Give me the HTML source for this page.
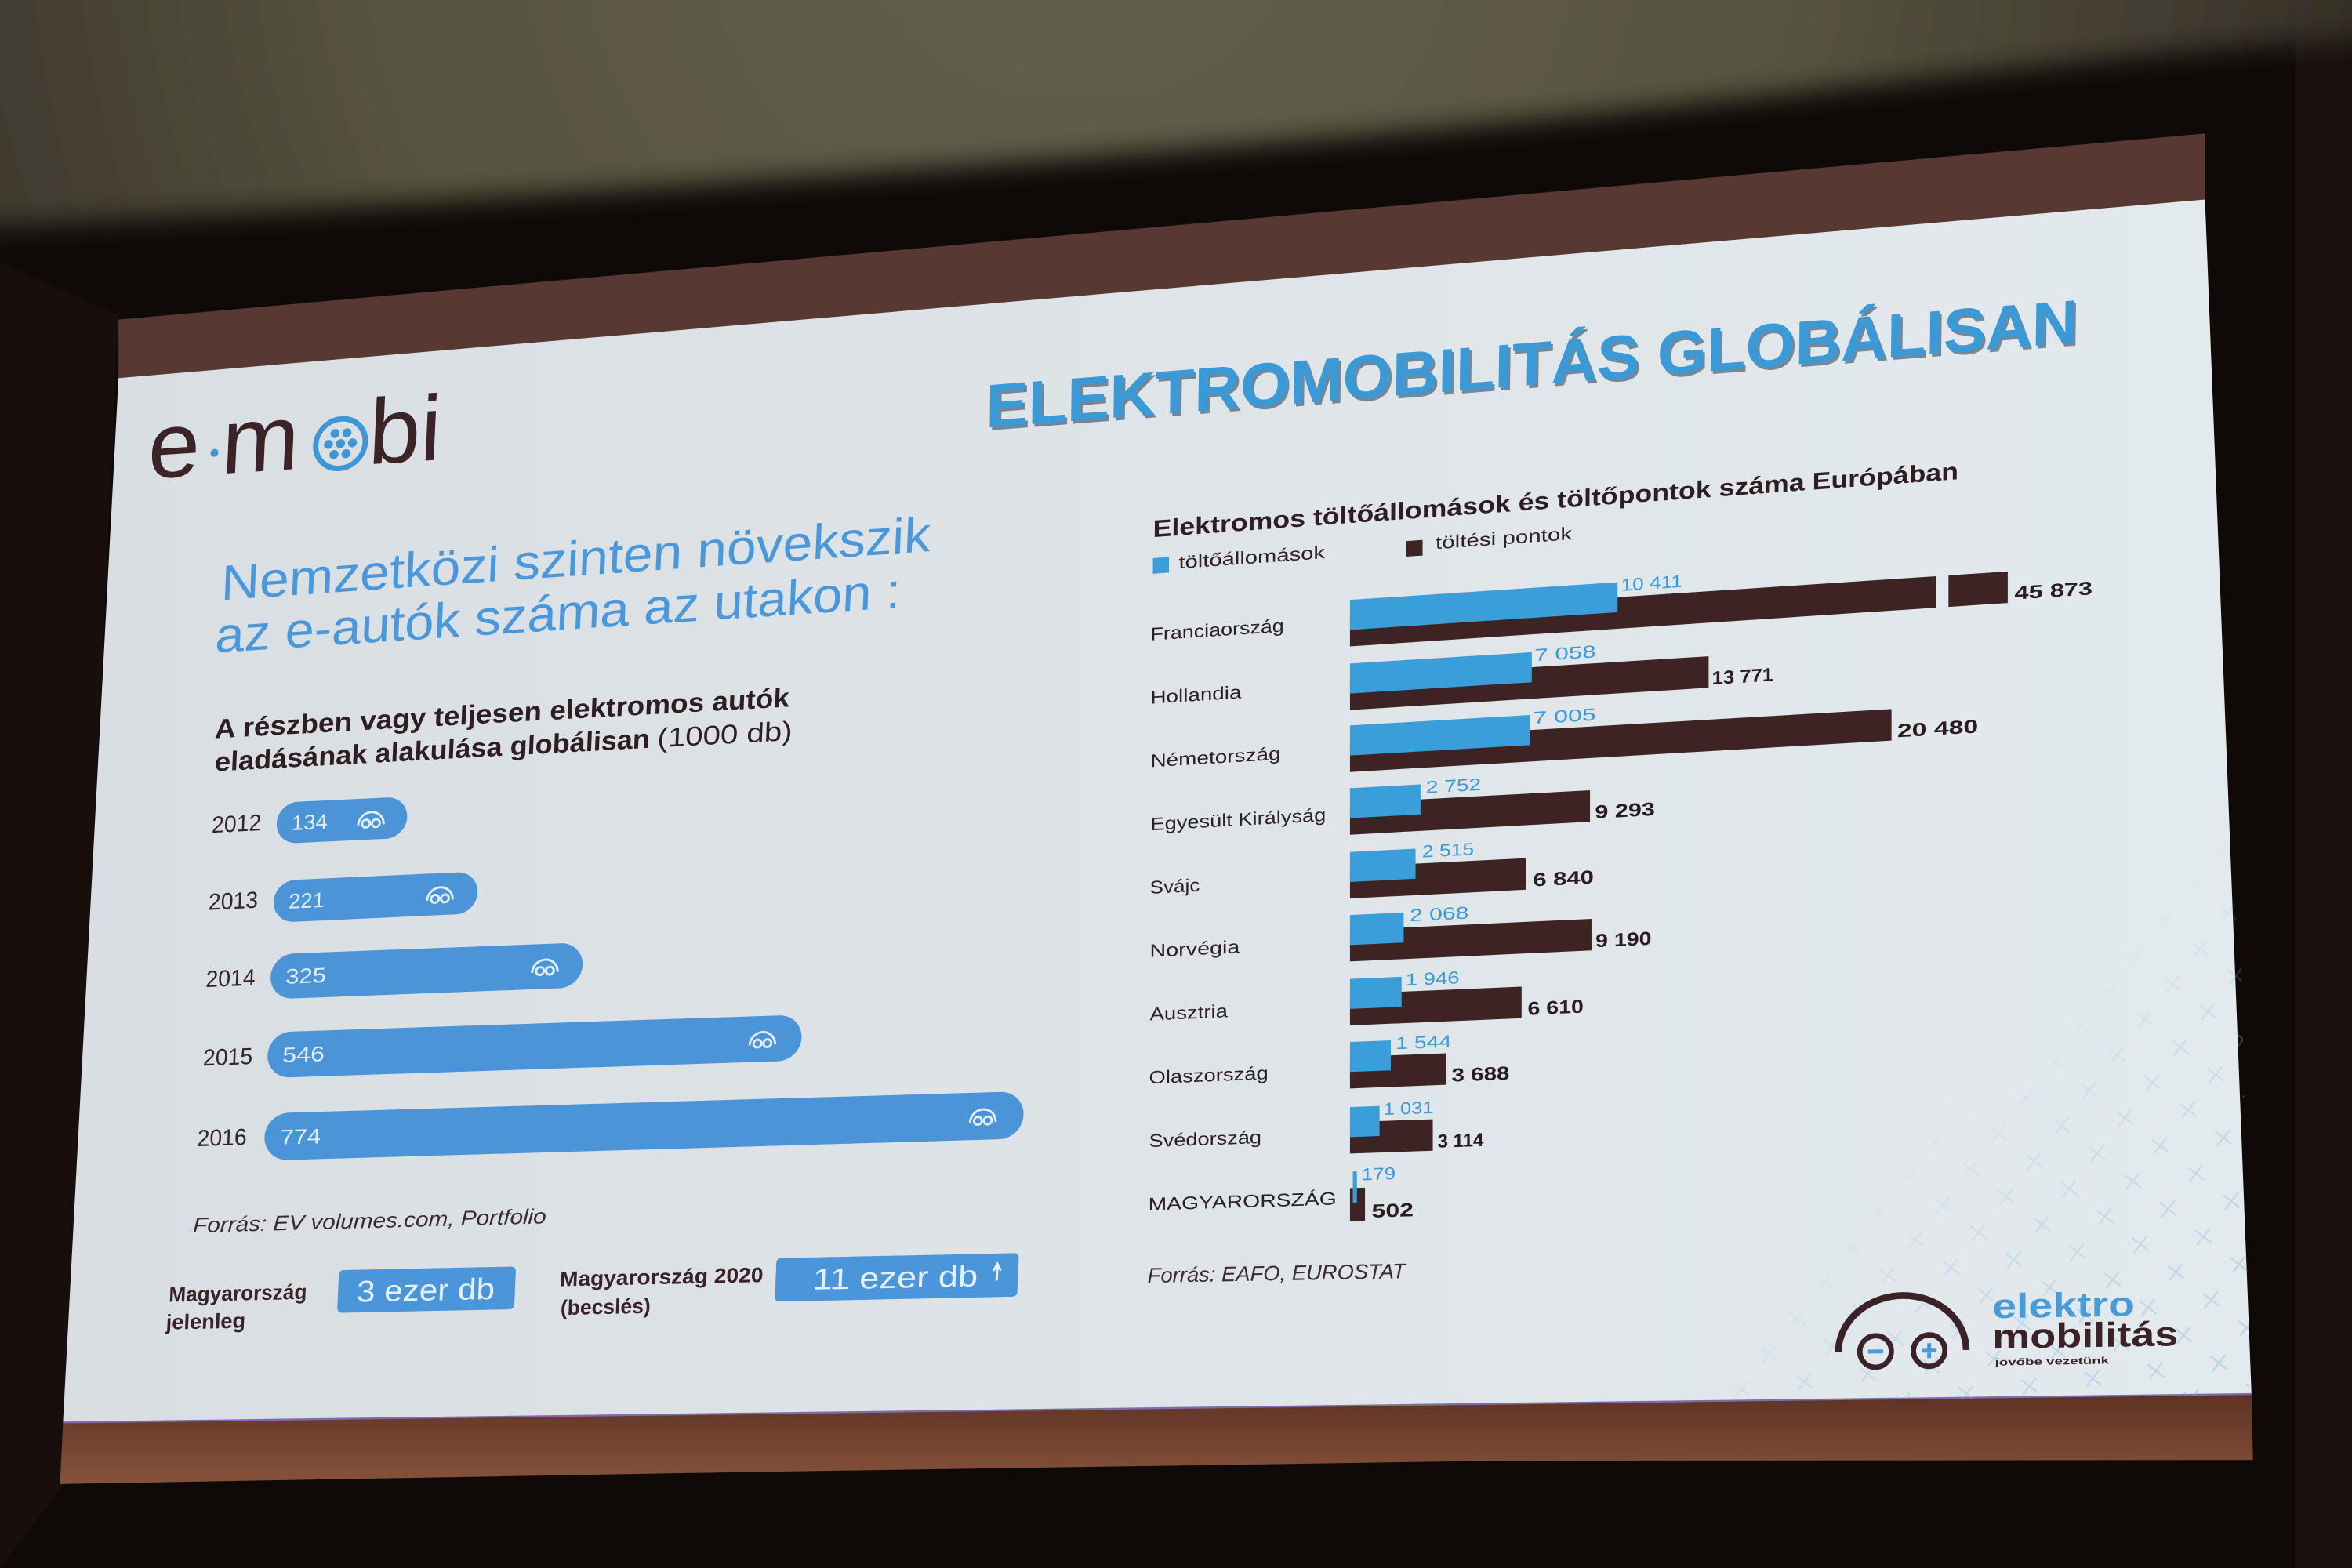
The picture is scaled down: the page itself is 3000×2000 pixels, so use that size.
<!DOCTYPE html>
<html><head><meta charset="utf-8">
<style>
html,body{margin:0;padding:0;background:#100b09;}
svg{display:block;}
text{font-family:"Liberation Sans","DejaVu Sans",sans-serif;}
.bl{font-size:11.5px;fill:#3a9ad8;}
.dl{font-size:12.5px;font-weight:bold;fill:#2a1c1f;}
.cl{font-size:12px;fill:#2d2024;}
.yr{font-size:15.5px;fill:#33252a;}
.bv{font-size:14px;fill:#e2edf8;}
</style></head>
<body>
<svg xmlns="http://www.w3.org/2000/svg" width="3000" height="2000" viewBox="0 0 1568 1045" preserveAspectRatio="none">
<defs>
 <radialGradient id="ceil" cx="720" cy="-80" r="950" gradientUnits="userSpaceOnUse">
  <stop offset="0" stop-color="#63624f"/>
  <stop offset="0.5" stop-color="#57543f"/>
  <stop offset="0.8" stop-color="#3f392e"/>
  <stop offset="1" stop-color="#2a241e"/>
 </radialGradient>
 <filter id="blur" filterUnits="userSpaceOnUse" x="-100" y="-100" width="1800" height="400"><feGaussianBlur stdDeviation="9"/></filter>
 <linearGradient id="scr" gradientUnits="userSpaceOnUse" x1="40" y1="0" x2="1500" y2="0">
  <stop offset="0" stop-color="#d8dee1"/>
  <stop offset="0.5" stop-color="#dee4e7"/>
  <stop offset="1" stop-color="#e3eaee"/>
 </linearGradient>
 <linearGradient id="bot" x1="0" y1="0" x2="0" y2="1">
  <stop offset="0" stop-color="#5e3325"/>
  <stop offset="1" stop-color="#87523a"/>
 </linearGradient>
 <pattern id="xp" width="30" height="30" patternUnits="userSpaceOnUse" patternTransform="rotate(38)">
  <path d="M15 8V22M8 15H22" stroke="#86bbe3" stroke-width="1.2" fill="none"/>
 </pattern>
 <linearGradient id="xm" gradientUnits="userSpaceOnUse" x1="1500" y1="930" x2="1300" y2="722">
  <stop offset="0" stop-color="#fff" stop-opacity="1"/>
  <stop offset="0.7" stop-color="#fff" stop-opacity="0.5"/>
  <stop offset="1" stop-color="#fff" stop-opacity="0"/>
 </linearGradient>
 <mask id="xmask"><polygon points="1120,935 1500,929 1492,520" fill="url(#xm)"/></mask>
 <g id="car" fill="none" stroke="#e4eef8" stroke-width="1.5">
  <path d="M-8.5 4 A8.5 8.5 0 0 1 8.5 4"/>
  <circle cx="-3.3" cy="3" r="2.6"/>
  <circle cx="3.3" cy="3" r="2.6"/>
 </g>
</defs>

<!-- background -->
<rect x="0" y="0" width="1568" height="1045" fill="#0f0a08"/>
<rect x="1530" y="0" width="38" height="1045" fill="#1a120f"/>
<path d="M-60,-60 H1640 V22 C1450,30 1250,58 1000,82 C760,104 420,128 -60,154 Z" fill="url(#ceil)" filter="url(#blur)"/>
<polygon points="0,175 79,210 42,990 0,1045" fill="#180f0d"/>

<!-- screen -->
<polygon points="79,213 1470,89 1470,133 79,252" fill="#573832"/>
<polygon points="79,252 1470,133 1501,929 42,948" fill="url(#scr)"/>
<polygon points="42,948 1501,929 1502,973 1000,973.5 500,981 40,989" fill="url(#bot)"/>
<line x1="42" y1="948" x2="1501" y2="929" stroke="#7d6ca8" stroke-width="1.2"/>

<!-- crosses pattern -->
<polygon points="1120,935 1500,929 1492,520" fill="url(#xp)" mask="url(#xmask)" opacity="0.5"/>

<!-- e-mobi logo -->
<g transform="matrix(1 -0.065 -0.046 1 98 319)" fill="#3b2328">
 <text x="0" y="0" font-size="62" fill="#3b2328">e</text>
 <circle cx="44.3" cy="-14.3" r="2.6" fill="#3f95d5"/>
 <text x="49" y="0" font-size="62" fill="#3b2328">m</text>
 <g transform="translate(128.3 -15)">
  <circle r="16.5" fill="none" stroke="#3f95d5" stroke-width="3.6"/>
  <g fill="#3f95d5">
   <circle cx="-4" cy="-7" r="3"/><circle cx="4" cy="-7" r="3"/>
   <circle cx="-8" cy="0" r="3"/><circle cx="0" cy="0" r="3"/><circle cx="8" cy="0" r="3"/>
   <circle cx="-4" cy="7" r="3"/><circle cx="4" cy="7" r="3"/>
  </g>
 </g>
 <text x="147" y="0" font-size="62" fill="#3b2328">bi</text>
</g>

<!-- title -->
<g transform="matrix(1 -0.078 -0.013 1 657 285)">
 <text x="1.5" y="2" font-size="41" font-weight="bold" fill="#1f3a55" opacity="0.55" textLength="728" lengthAdjust="spacingAndGlyphs">ELEKTROMOBILITÁS GLOBÁLISAN</text>
 <text x="0" y="0" font-size="41" font-weight="bold" fill="#3a99d7" textLength="728" lengthAdjust="spacingAndGlyphs">ELEKTROMOBILITÁS GLOBÁLISAN</text>
</g>

<!-- left heading -->
<text transform="matrix(1 -0.069 -0.043 1 147 400)" font-size="33" fill="#4a98dc" textLength="473" lengthAdjust="spacingAndGlyphs">Nemzetközi szinten növekszik</text>
<text transform="matrix(1 -0.066 -0.043 1 143 435)" font-size="33" fill="#4a98dc" textLength="457" lengthAdjust="spacingAndGlyphs">az e-autók száma az utakon :</text>

<!-- subheading -->
<text transform="matrix(1 -0.055 -0.043 1 143 492)" font-size="18" font-weight="bold" fill="#2e1e22" textLength="383" lengthAdjust="spacingAndGlyphs">A részben vagy teljesen elektromos autók</text>
<g transform="matrix(1 -0.054 -0.043 1 143 514)">
 <text x="0" y="0" font-size="18" font-weight="bold" fill="#2e1e22" textLength="290" lengthAdjust="spacingAndGlyphs">eladásának alakulása globálisan</text>
 <text x="295" y="0" font-size="18" fill="#2e1e22" textLength="90" lengthAdjust="spacingAndGlyphs">(1000 db)</text>
</g>

<!-- left bars -->
<g transform="matrix(1 -0.048 -0.041 1 185 535)">
 <rect width="87" height="27.5" rx="13.75" fill="#4a94d7"/>
 <text x="10" y="18.8" class="bv" textLength="24" lengthAdjust="spacingAndGlyphs">134</text>
 <use href="#car" x="63" y="13.75"/>
</g>
<g transform="matrix(1 -0.046 -0.041 1 183 587)">
 <rect width="136" height="28" rx="14" fill="#4a94d7"/>
 <text x="10" y="19" class="bv" textLength="24" lengthAdjust="spacingAndGlyphs">221</text>
 <use href="#car" x="111" y="14"/>
</g>
<g transform="matrix(1 -0.038 -0.040 1 181 636)">
 <rect width="208" height="30" rx="15" fill="#4a94d7"/>
 <text x="10" y="20" class="bv" textLength="27" lengthAdjust="spacingAndGlyphs">325</text>
 <use href="#car" x="183" y="15"/>
</g>
<g transform="matrix(1 -0.033 -0.040 1 179 688)">
 <rect width="356" height="30.5" rx="15.25" fill="#4a94d7"/>
 <text x="10" y="20.3" class="bv" textLength="28" lengthAdjust="spacingAndGlyphs">546</text>
 <use href="#car" x="330" y="15.25"/>
</g>
<g transform="matrix(1 -0.029 -0.040 1 177 742)">
 <rect width="506" height="31.5" rx="15.75" fill="#4a94d7"/>
 <text x="10.5" y="21" class="bv" textLength="27" lengthAdjust="spacingAndGlyphs">774</text>
 <use href="#car" x="479" y="15.75"/>
</g>

<!-- year labels -->
<text transform="matrix(1 -0.048 -0.041 1 141 555)" class="yr" textLength="33" lengthAdjust="spacingAndGlyphs">2012</text>
<text transform="matrix(1 -0.046 -0.041 1 138.8 606.4)" class="yr" textLength="33" lengthAdjust="spacingAndGlyphs">2013</text>
<text transform="matrix(1 -0.038 -0.040 1 137 657.8)" class="yr" textLength="33" lengthAdjust="spacingAndGlyphs">2014</text>
<text transform="matrix(1 -0.033 -0.040 1 135.2 710.2)" class="yr" textLength="33" lengthAdjust="spacingAndGlyphs">2015</text>
<text transform="matrix(1 -0.029 -0.040 1 131.3 763.9)" class="yr" textLength="33" lengthAdjust="spacingAndGlyphs">2016</text>

<!-- left source -->
<text transform="matrix(1 -0.026 -0.043 1 128.5 821.4)" font-size="14" font-style="italic" fill="#3a2a30" textLength="235.5" lengthAdjust="spacingAndGlyphs">Forrás: EV volumes.com, Portfolio</text>

<!-- bottom left info -->
<text transform="matrix(1 -0.021 -0.044 1 112.4 867.6)" font-size="14" font-weight="bold" fill="#3a2228" textLength="92" lengthAdjust="spacingAndGlyphs">Magyarország</text>
<text transform="matrix(1 -0.021 -0.044 1 110.5 886)" font-size="14" font-weight="bold" fill="#3a2228" textLength="53" lengthAdjust="spacingAndGlyphs">jelenleg</text>
<g transform="matrix(1 -0.021 -0.044 1 226 846.5)">
 <rect width="118" height="28.5" rx="3" fill="#4b96da"/>
 <text x="12.5" y="21.4" font-size="20" fill="#e6f0fa" textLength="92" lengthAdjust="spacingAndGlyphs">3 ezer db</text>
</g>
<text transform="matrix(1 -0.021 -0.042 1 373 857.2)" font-size="14" font-weight="bold" fill="#3a2228" textLength="135.6" lengthAdjust="spacingAndGlyphs">Magyarország 2020</text>
<text transform="matrix(1 -0.021 -0.042 1 373.5 876.3)" font-size="14" font-weight="bold" fill="#3a2228" textLength="60" lengthAdjust="spacingAndGlyphs">(becslés)</text>
<g transform="matrix(1 -0.021 -0.042 1 517.7 838.5)">
 <rect width="161.6" height="29" rx="3" fill="#4b96da"/>
 <text x="24.8" y="21.5" font-size="20" fill="#e6f0fa" textLength="110" lengthAdjust="spacingAndGlyphs">11 ezer db</text>
 <path d="M147.5 18 V8 M145 11.5 L147.5 7 L150 11.5" stroke="#e6f0fa" stroke-width="1.6" fill="none"/>
</g>

<!-- right chart title & legend -->
<text transform="matrix(1 -0.072 -0.006 1 768.6 358)" font-size="16" font-weight="bold" fill="#2e1e22" textLength="537" lengthAdjust="spacingAndGlyphs">Elektromos töltőállomások és töltőpontok száma Európában</text>
<rect transform="matrix(1 -0.07 0 1 768.6 372)" width="10.7" height="10.4" fill="#3a9edb"/>
<text transform="matrix(1 -0.07 0 1 785.8 378.9)" font-size="12" fill="#2e2024" textLength="97.5" lengthAdjust="spacingAndGlyphs">töltőállomások</text>
<rect transform="matrix(1 -0.07 0 1 937.6 360.6)" width="10.8" height="10.4" fill="#3d2422"/>
<text transform="matrix(1 -0.07 0 1 957 365.9)" font-size="12" fill="#2e2024" textLength="91" lengthAdjust="spacingAndGlyphs">töltési pontok</text>

<!-- right chart rows -->
<g transform="matrix(1 -0.066 0 1 900 399.8)">
 <rect x="0" y="10" width="390.8" height="21" fill="#3d2422"/>
 <rect x="399" y="10" width="39.5" height="21" fill="#3d2422"/>
 <rect x="0" y="0" width="178.4" height="20" fill="#3a9edb"/>
 <text x="180.6" y="6" class="bl" textLength="41" lengthAdjust="spacingAndGlyphs">10 411</text>
 <text x="443" y="29" class="dl" textLength="52" lengthAdjust="spacingAndGlyphs">45 873</text>
</g>
<g transform="matrix(1 -0.062 0 1 900 442.2)">
 <rect x="0" y="10" width="239.1" height="21" fill="#3d2422"/>
 <rect x="0" y="0" width="121.2" height="20" fill="#3a9edb"/>
 <text x="123" y="6" class="bl" textLength="41" lengthAdjust="spacingAndGlyphs">7 058</text>
 <text x="241.3" y="29" class="dl" textLength="41" lengthAdjust="spacingAndGlyphs">13 771</text>
</g>
<g transform="matrix(1 -0.058 0 1 900 483.5)">
 <rect x="0" y="10" width="361" height="21" fill="#3d2422"/>
 <rect x="0" y="0" width="120" height="20" fill="#3a9edb"/>
 <text x="122" y="6" class="bl" textLength="42" lengthAdjust="spacingAndGlyphs">7 005</text>
 <text x="364.8" y="29" class="dl" textLength="54" lengthAdjust="spacingAndGlyphs">20 480</text>
</g>
<g transform="matrix(1 -0.054 0 1 900 525.3)">
 <rect x="0" y="10" width="160" height="21" fill="#3d2422"/>
 <rect x="0" y="0" width="47" height="20" fill="#3a9edb"/>
 <text x="50.6" y="6" class="bl" textLength="36.8" lengthAdjust="spacingAndGlyphs">2 752</text>
 <text x="163.3" y="29" class="dl" textLength="40" lengthAdjust="spacingAndGlyphs">9 293</text>
</g>
<g transform="matrix(1 -0.050 0 1 900 567.8)">
 <rect x="0" y="10" width="117.6" height="21" fill="#3d2422"/>
 <rect x="0" y="0" width="43.7" height="20" fill="#3a9edb"/>
 <text x="48" y="6" class="bl" textLength="34.7" lengthAdjust="spacingAndGlyphs">2 515</text>
 <text x="122" y="29" class="dl" textLength="40.5" lengthAdjust="spacingAndGlyphs">6 840</text>
</g>
<g transform="matrix(1 -0.046 0 1 900 609.8)">
 <rect x="0" y="10" width="161" height="21" fill="#3d2422"/>
 <rect x="0" y="0" width="35.8" height="20" fill="#3a9edb"/>
 <text x="39.7" y="6" class="bl" textLength="39.5" lengthAdjust="spacingAndGlyphs">2 068</text>
 <text x="163.7" y="29" class="dl" textLength="37.3" lengthAdjust="spacingAndGlyphs">9 190</text>
</g>
<g transform="matrix(1 -0.042 0 1 900 652.4)">
 <rect x="0" y="10" width="114.4" height="21" fill="#3d2422"/>
 <rect x="0" y="0" width="34.4" height="20" fill="#3a9edb"/>
 <text x="37" y="6" class="bl" textLength="36" lengthAdjust="spacingAndGlyphs">1 946</text>
 <text x="118.4" y="29" class="dl" textLength="37.3" lengthAdjust="spacingAndGlyphs">6 610</text>
</g>
<g transform="matrix(1 -0.038 0 1 900 694.4)">
 <rect x="0" y="10" width="64.3" height="21" fill="#3d2422"/>
 <rect x="0" y="0" width="27.2" height="20" fill="#3a9edb"/>
 <text x="30.4" y="6" class="bl" textLength="37.3" lengthAdjust="spacingAndGlyphs">1 544</text>
 <text x="67.7" y="29" class="dl" textLength="38.7" lengthAdjust="spacingAndGlyphs">3 688</text>
</g>
<g transform="matrix(1 -0.034 0 1 900 737.8)">
 <rect x="0" y="10" width="55.2" height="21" fill="#3d2422"/>
 <rect x="0" y="0" width="19.7" height="20" fill="#3a9edb"/>
 <text x="22.4" y="6" class="bl" textLength="33.3" lengthAdjust="spacingAndGlyphs">1 031</text>
 <text x="58.4" y="29" class="dl" textLength="30.7" lengthAdjust="spacingAndGlyphs">3 114</text>
</g>
<g transform="matrix(1 -0.030 0 1 900 780.8)">
 <rect x="0" y="11" width="10" height="22" fill="#3d2422"/>
 <rect x="1.9" y="0" width="2.7" height="21" fill="#3a9edb"/>
 <text x="7.7" y="6" class="bl" textLength="22.7" lengthAdjust="spacingAndGlyphs">179</text>
 <text x="14.4" y="31" class="dl" textLength="28" lengthAdjust="spacingAndGlyphs">502</text>
</g>

<!-- country labels -->
<text transform="matrix(1 -0.066 0 1 767 426.8)" class="cl" textLength="89" lengthAdjust="spacingAndGlyphs">Franciaország</text>
<text transform="matrix(1 -0.062 0 1 767 469)" class="cl" textLength="60.6" lengthAdjust="spacingAndGlyphs">Hollandia</text>
<text transform="matrix(1 -0.058 0 1 767 511.2)" class="cl" textLength="86.8" lengthAdjust="spacingAndGlyphs">Németország</text>
<text transform="matrix(1 -0.054 0 1 767 553.4)" class="cl" textLength="117" lengthAdjust="spacingAndGlyphs">Egyesült Királyság</text>
<text transform="matrix(1 -0.050 0 1 766.5 595.6)" class="cl" textLength="33.4" lengthAdjust="spacingAndGlyphs">Svájc</text>
<text transform="matrix(1 -0.046 0 1 766.5 637.8)" class="cl" textLength="60" lengthAdjust="spacingAndGlyphs">Norvégia</text>
<text transform="matrix(1 -0.042 0 1 766.5 680)" class="cl" textLength="52" lengthAdjust="spacingAndGlyphs">Ausztria</text>
<text transform="matrix(1 -0.038 0 1 766 722.2)" class="cl" textLength="79.5" lengthAdjust="spacingAndGlyphs">Olaszország</text>
<text transform="matrix(1 -0.034 0 1 766 764.4)" class="cl" textLength="75" lengthAdjust="spacingAndGlyphs">Svédország</text>
<text transform="matrix(1 -0.030 0 1 765.5 806.6)" class="cl" textLength="125.5" lengthAdjust="spacingAndGlyphs">MAGYARORSZÁG</text>

<!-- right source -->
<text transform="matrix(1 -0.0174 -0.006 1 765 854.8)" font-size="14" font-style="italic" fill="#3a2a30" textLength="172" lengthAdjust="spacingAndGlyphs">Forrás: EAFO, EUROSTAT</text>

<!-- bottom-right logo -->
<g transform="matrix(1 -0.016 0 1 0 20.3)">
 <path d="M1225.6 900.4 A42.6 37 0 0 1 1310.8 900.4" stroke="#3a2226" stroke-width="4.5" fill="none"/>
 <circle cx="1250.4" cy="900.4" r="10.5" stroke="#3a2226" stroke-width="3.5" fill="none"/>
 <circle cx="1286.1" cy="900.4" r="10.5" stroke="#3a2226" stroke-width="3.5" fill="none"/>
 <path d="M1245.4 900.4 H1255.4" stroke="#4a9ad8" stroke-width="2.6"/>
 <path d="M1281.1 900.4 H1291.1 M1286.1 895.4 V905.4" stroke="#4a9ad8" stroke-width="2.6"/>
 <text x="1328.2" y="879.4" font-size="23" font-weight="bold" fill="#4a9ad8" textLength="95" lengthAdjust="spacingAndGlyphs">elektro</text>
 <text x="1328.2" y="899.7" font-size="23" font-weight="bold" fill="#3a2226" textLength="124" lengthAdjust="spacingAndGlyphs">mobilitás</text>
 <text x="1330" y="911" font-size="6.5" font-weight="bold" fill="#3a2226" textLength="76" lengthAdjust="spacingAndGlyphs">jövőbe vezetünk</text>
</g>
</svg>
</body></html>
